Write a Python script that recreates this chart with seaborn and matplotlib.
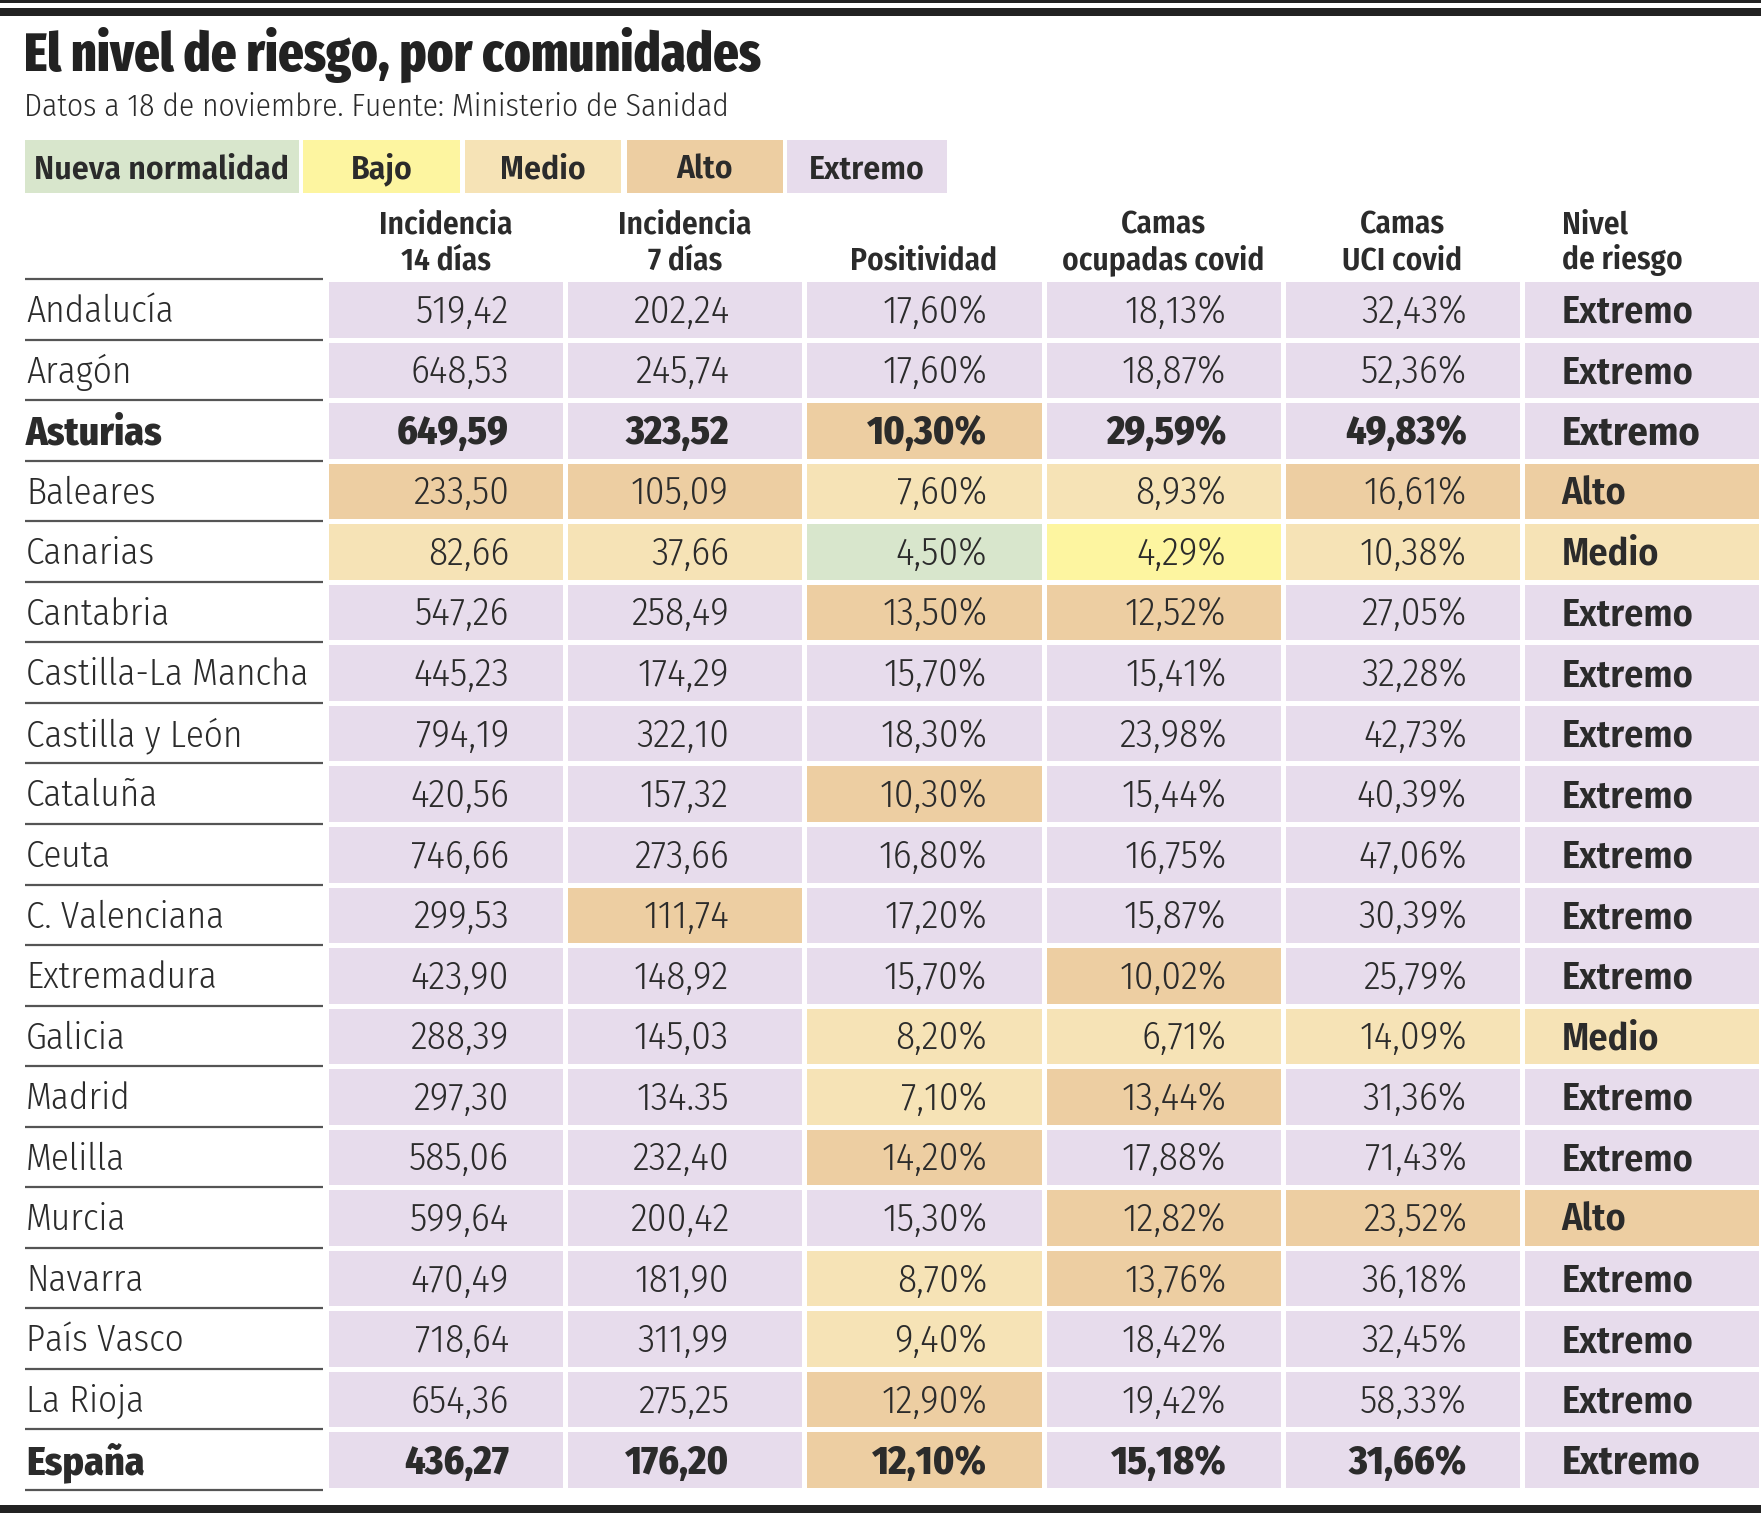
import matplotlib
matplotlib.use("Agg")
import matplotlib.pyplot as plt
from matplotlib import font_manager
from matplotlib.font_manager import FontProperties
from matplotlib.colors import ListedColormap
from matplotlib.patches import Rectangle
from matplotlib.textpath import TextPath
from matplotlib.transforms import blended_transform_factory
import seaborn as sns
import pandas as pd

# ---------------- data ----------------
title = "El nivel de riesgo, por comunidades"
subtitle = "Datos a 18 de noviembre. Fuente: Ministerio de Sanidad"
legend_labels = ["Nueva normalidad", "Bajo", "Medio", "Alto", "Extremo"]
col_headers = [["Incidencia", "14 días"], ["Incidencia", "7 días"], ["", "Positividad"],
               ["Camas", "ocupadas covid"], ["Camas", "UCI covid"], ["Nivel", "de riesgo"]]
regions = ["Andalucía", "Aragón", "Asturias", "Baleares", "Canarias", "Cantabria",
           "Castilla-La Mancha", "Castilla y León", "Cataluña", "Ceuta",
           "C. Valenciana", "Extremadura", "Galicia", "Madrid", "Melilla",
           "Murcia", "Navarra", "País Vasco", "La Rioja", "España"]
bold_rows = ["Asturias", "España"]
inc14 = ["519,42", "648,53", "649,59", "233,50", "82,66", "547,26", "445,23", "794,19",
         "420,56", "746,66", "299,53", "423,90", "288,39", "297,30", "585,06", "599,64",
         "470,49", "718,64", "654,36", "436,27"]
inc7 = ["202,24", "245,74", "323,52", "105,09", "37,66", "258,49", "174,29", "322,10",
        "157,32", "273,66", "111,74", "148,92", "145,03", "134.35", "232,40", "200,42",
        "181,90", "311,99", "275,25", "176,20"]
positividad = ["17,60%", "17,60%", "10,30%", "7,60%", "4,50%", "13,50%", "15,70%", "18,30%",
               "10,30%", "16,80%", "17,20%", "15,70%", "8,20%", "7,10%", "14,20%", "15,30%",
               "8,70%", "9,40%", "12,90%", "12,10%"]
camas = ["18,13%", "18,87%", "29,59%", "8,93%", "4,29%", "12,52%", "15,41%", "23,98%",
         "15,44%", "16,75%", "15,87%", "10,02%", "6,71%", "13,44%", "17,88%", "12,82%",
         "13,76%", "18,42%", "19,42%", "15,18%"]
uci = ["32,43%", "52,36%", "49,83%", "16,61%", "10,38%", "27,05%", "32,28%", "42,73%",
       "40,39%", "47,06%", "30,39%", "25,79%", "14,09%", "31,36%", "71,43%", "23,52%",
       "36,18%", "32,45%", "58,33%", "31,66%"]
nivel = ["Extremo", "Extremo", "Extremo", "Alto", "Medio", "Extremo", "Extremo", "Extremo",
         "Extremo", "Extremo", "Extremo", "Extremo", "Medio", "Extremo", "Extremo", "Alto",
         "Extremo", "Extremo", "Extremo", "Extremo"]
# risk level of each cell: 0 nueva normalidad, 1 bajo, 2 medio, 3 alto, 4 extremo
lvl_inc14 = [4, 4, 4, 3, 2, 4, 4, 4, 4, 4, 4, 4, 4, 4, 4, 4, 4, 4, 4, 4]
lvl_inc7 = [4, 4, 4, 3, 2, 4, 4, 4, 4, 4, 3, 4, 4, 4, 4, 4, 4, 4, 4, 4]
lvl_pos = [4, 4, 3, 2, 0, 3, 4, 4, 3, 4, 4, 4, 2, 2, 3, 4, 2, 2, 3, 3]
lvl_camas = [4, 4, 4, 2, 1, 3, 4, 4, 4, 4, 4, 3, 2, 3, 4, 3, 3, 4, 4, 4]
lvl_uci = [4, 4, 4, 3, 2, 4, 4, 4, 4, 4, 4, 4, 2, 4, 4, 3, 4, 4, 4, 4]
lvl_nivel = [4, 4, 4, 3, 2, 4, 4, 4, 4, 4, 4, 4, 2, 4, 4, 3, 4, 4, 4, 4]

level_colors = ["#d8e6cc", "#fdf5a0", "#f6e3b6", "#edcea2", "#e7dcec"]

# ---------------- fonts ----------------
avail = {f.name for f in font_manager.fontManager.ttflist}
def pick(cands):
    for c in cands:
        if c in avail:
            return c
    return "DejaVu Sans"

BODY = pick(["Fira Sans Condensed", "Roboto Condensed", "IBM Plex Sans Condensed",
             "PT Sans Narrow", "Open Sans Condensed", "Liberation Sans Narrow"])
TITLEF = pick(["Fira Sans Extra Condensed", "Fira Sans Condensed", "Roboto Condensed",
               "IBM Plex Sans Condensed", "PT Sans Narrow"])
TXT = "#2b2b2b"
LIGHT = 300
HEAVY = 800

W, H = 1761, 1513
DPI = 100
fig = plt.figure(figsize=(W / DPI, H / DPI), dpi=DPI)
fig.patch.set_facecolor("white")
plt.rcParams["font.family"] = [BODY, "DejaVu Sans"]
renderer = fig.canvas.get_renderer()

def text_width(s, family, weight, size=20):
    t = fig.text(0, 0, s, fontsize=size, family=family, fontweight=weight)
    w = t.get_window_extent(renderer=renderer).width
    t.remove()
    return w

def fit(s, target_px, family, weight):
    return 20 * target_px / text_width(s, family, weight)

def cap_px(size, family, weight):
    fp = FontProperties(family=family, weight=weight, size=size)
    ext = TextPath((0, 0), "0", size=size, prop=fp).get_extents()
    return ext.height * DPI / 72

def fx(px):
    return px / W

def fy(py):
    return 1 - py / H

# top & bottom rules
fig.add_artist(Rectangle((0, fy(3)), 1, 3 / H, transform=fig.transFigure, color="#222222", lw=0))
fig.add_artist(Rectangle((0, fy(16)), 1, 8 / H, transform=fig.transFigure, color="#222222", lw=0))
fig.add_artist(Rectangle((0, fy(1513)), 1, 8 / H, transform=fig.transFigure, color="#222222", lw=0))

tw = "heavy"
ts = fit(title, 733, TITLEF, tw)
fig.text(fx(24), fy(71), title, fontsize=ts, fontweight=tw, family=TITLEF,
         color="#222222", ha="left", va="baseline")
ss = fit(subtitle, 706, BODY, LIGHT)
fig.text(fx(24), fy(116), subtitle, fontsize=ss, color=TXT, family=BODY,
         fontweight=LIGHT, ha="left", va="baseline")

# legend boxes
ls = fit("Nueva normalidad", 255, BODY, "semibold")
leg_x = [(25, 299), (303, 460), (465, 621), (627, 783), (787, 947)]
for (x0, x1), lab, c in zip(leg_x, legend_labels, level_colors):
    fig.add_artist(Rectangle((fx(x0), fy(193)), fx(x1 - x0), 53 / H,
                             transform=fig.transFigure, color=c, lw=0))
    fig.text(fx((x0 + x1) / 2), fy(167) - 0.5 * cap_px(ls, BODY, "semibold") / H, lab,
             fontsize=ls, fontweight="semibold", family=BODY,
             color=TXT, ha="center", va="baseline")

# ---------------- heatmap table ----------------
levels = pd.DataFrame({
    "inc14": lvl_inc14, "inc7": lvl_inc7, "pos": lvl_pos,
    "camas": lvl_camas, "uci": lvl_uci, "nivel": lvl_nivel}, index=regions)
labels = pd.DataFrame({
    "inc14": inc14, "inc7": inc7, "pos": positividad,
    "camas": camas, "uci": uci, "nivel": nivel}, index=regions)

ROW_PX = 1211 / 20
ax = fig.add_axes([fx(326), fy(1490), fx(1435), 1211 / H])
sns.heatmap(levels, ax=ax, cmap=ListedColormap(level_colors), vmin=-0.5, vmax=4.5,
            cbar=False, linewidths=3.6, linecolor="white",
            xticklabels=False, yticklabels=False)
ax.tick_params(left=False, bottom=False)

# font sizes fitted to the widths measured on the reference
name_s = fit("Castilla-La Mancha", 283, BODY, LIGHT)
num_s = fit("519,42", 93, BODY, LIGHT)
bold_s = fit("Asturias", 137, BODY, HEAVY)
bnum_s = fit("649,59", 112, BODY, HEAVY)
lvl_s = fit("Extremo", 132, BODY, "semibold")
blvl_s = fit("Extremo", 139, BODY, "bold")

def boff(size, weight):
    return 0.5 + 0.5 * cap_px(size, BODY, weight) / ROW_PX

right_off = [0.765, 0.685, 0.765, 0.765, 0.77]
for i, reg in enumerate(regions):
    isb = reg in bold_rows
    wt, sz = (HEAVY, bnum_s) if isb else (LIGHT, num_s)
    for j, col in enumerate(labels.columns):
        s = labels.iloc[i, j]
        if j < 5:
            ax.text(j + right_off[j], i + boff(sz, wt), s, ha="right", va="baseline",
                    fontsize=sz, color=TXT, fontweight=wt)
        else:
            w6, s6 = ("bold", blvl_s) if isb else ("semibold", lvl_s)
            ax.text(j + 0.166, i + boff(s6, w6), s, ha="left", va="baseline",
                    fontsize=s6, color=TXT, fontweight=w6)

# row names and separators
bt = blended_transform_factory(fig.transFigure, ax.transData)
for i, reg in enumerate(regions):
    wt, sz = (HEAVY, bold_s) if reg in bold_rows else (LIGHT, name_s)
    ax.text(fx(26), i + boff(sz, wt), reg, transform=bt, ha="left", va="baseline",
            fontsize=sz, color=TXT, fontweight=wt, clip_on=False)
for k in range(len(regions) + 1):
    ax.plot([fx(25), fx(323)], [k, k], transform=bt, color="#555555", lw=1.6,
            clip_on=False, solid_capstyle="butt")

# column headers
hs = fit("ocupadas covid", 202, BODY, "semibold")
y1 = -(281 - 236) / ROW_PX
y2 = -(281 - 271) / ROW_PX
for j, (l1, l2) in enumerate(col_headers):
    if j < 5:
        xx, ha = j + 0.5, "center"
    else:
        xx, ha = j + 0.166, "left"
    for yy, s in ((y1, l1), (y2, l2)):
        if s:
            ax.text(xx, yy, s, ha=ha, va="baseline", fontsize=hs,
                    fontweight="semibold", color=TXT, clip_on=False)

fig.savefig("out.png", dpi=DPI, facecolor="white")
